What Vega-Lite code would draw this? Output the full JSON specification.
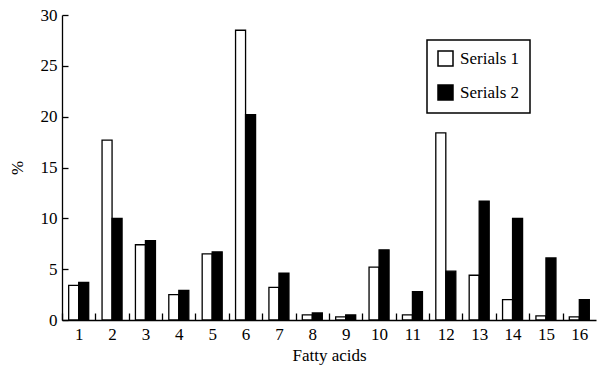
{
  "$schema": "https://vega.github.io/schema/vega-lite/v6.json",
  "width": 534,
  "height": 305,
  "autosize": {"type": "none"},
  "padding": {"left": 62, "top": 15, "right": 3, "bottom": 45},
  "background": "white",
  "config": {
    "view": {"stroke": null},
    "font": "Liberation Serif",
    "axis": {"labelFont": "Liberation Serif", "titleFont": "Liberation Serif", "labelColor": "black", "titleColor": "black", "domainColor": "black", "tickColor": "black", "domainWidth": 1.3, "tickWidth": 1.3, "labelFontSize": 17, "titleFontSize": 17, "titleFontWeight": "normal", "grid": false},
    "legend": {"strokeWidth": 1.5}
  },
  "data": {
    "values": [
      {"acid": 1, "series": "Serials 1", "value": 3.4},
      {"acid": 1, "series": "Serials 2", "value": 3.7},
      {"acid": 2, "series": "Serials 1", "value": 17.7},
      {"acid": 2, "series": "Serials 2", "value": 10.0},
      {"acid": 3, "series": "Serials 1", "value": 7.4},
      {"acid": 3, "series": "Serials 2", "value": 7.8},
      {"acid": 4, "series": "Serials 1", "value": 2.5},
      {"acid": 4, "series": "Serials 2", "value": 2.9},
      {"acid": 5, "series": "Serials 1", "value": 6.5},
      {"acid": 5, "series": "Serials 2", "value": 6.7},
      {"acid": 6, "series": "Serials 1", "value": 28.5},
      {"acid": 6, "series": "Serials 2", "value": 20.2},
      {"acid": 7, "series": "Serials 1", "value": 3.2},
      {"acid": 7, "series": "Serials 2", "value": 4.6},
      {"acid": 8, "series": "Serials 1", "value": 0.5},
      {"acid": 8, "series": "Serials 2", "value": 0.7},
      {"acid": 9, "series": "Serials 1", "value": 0.3},
      {"acid": 9, "series": "Serials 2", "value": 0.5},
      {"acid": 10, "series": "Serials 1", "value": 5.2},
      {"acid": 10, "series": "Serials 2", "value": 6.9},
      {"acid": 11, "series": "Serials 1", "value": 0.5},
      {"acid": 11, "series": "Serials 2", "value": 2.8},
      {"acid": 12, "series": "Serials 1", "value": 18.4},
      {"acid": 12, "series": "Serials 2", "value": 4.8},
      {"acid": 13, "series": "Serials 1", "value": 4.4},
      {"acid": 13, "series": "Serials 2", "value": 11.7},
      {"acid": 14, "series": "Serials 1", "value": 2.0},
      {"acid": 14, "series": "Serials 2", "value": 10.0},
      {"acid": 15, "series": "Serials 1", "value": 0.4},
      {"acid": 15, "series": "Serials 2", "value": 6.1},
      {"acid": 16, "series": "Serials 1", "value": 0.3},
      {"acid": 16, "series": "Serials 2", "value": 2.0}
    ]
  },
  "mark": {"type": "bar", "stroke": "black", "strokeWidth": 1.3},
  "encoding": {
    "x": {
      "field": "acid",
      "type": "ordinal",
      "sort": "ascending",
      "scale": {"paddingInner": 0.4, "paddingOuter": 0.2},
      "axis": {"title": "Fatty acids", "labelAngle": 0, "tickSize": -7, "tickOffset": -16.69, "labelOffset": 16.69, "labelPadding": 13, "titlePadding": 5}
    },
    "xOffset": {
      "field": "series",
      "type": "nominal",
      "scale": {"paddingInner": 0, "paddingOuter": 0}
    },
    "y": {
      "field": "value",
      "type": "quantitative",
      "scale": {"domain": [0, 30], "nice": false},
      "axis": {"title": "%", "values": [0, 5, 10, 15, 20, 25, 30], "tickSize": -6, "labelPadding": 11, "titlePadding": 14}
    },
    "fill": {
      "field": "series",
      "type": "nominal",
      "scale": {"domain": ["Serials 1", "Serials 2"], "range": ["white", "black"]},
      "legend": {
        "title": null,
        "orient": "none",
        "legendX": 365,
        "legendY": 25,
        "padding": 10,
        "strokeColor": "black",
        "symbolType": "square",
        "symbolSize": 225,
        "symbolStrokeColor": "black",
        "symbolStrokeWidth": 1.5,
        "labelFont": "Liberation Serif",
        "labelFontSize": 17,
        "labelColor": "black",
        "labelOffset": 6,
        "rowPadding": 13
      }
    }
  }
}
